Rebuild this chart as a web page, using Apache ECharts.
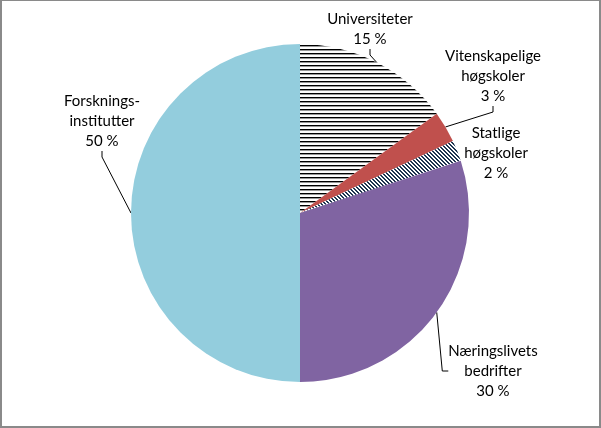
<!DOCTYPE html>
<html>
<head>
<meta charset="utf-8">
<script src="https://cdn.jsdelivr.net/npm/echarts@6/dist/echarts.min.js"></script>
<style>
html,body{margin:0;padding:0;background:#fff;}
#chart{width:597px;height:425px;border-left:2px solid #8a8a8a;border-right:2px solid #8a8a8a;border-top:1px solid #8a8a8a;border-bottom:2px solid #8a8a8a;}
</style>
</head>
<body>
<div id="chart"></div>
<script>
// Data
var categories = ['Universiteter', 'Vitenskapelige\nhøgskoler', 'Statlige\nhøgskoler', 'Næringslivets\nbedrifter', 'Forsknings-\ninstitutter'];
var values = [15, 3, 2, 30, 50];

// Styles / layout (not data)
function stripePattern() {
  var c = document.createElement('canvas');
  c.width = 8; c.height = 4;
  var g = c.getContext('2d');
  g.fillStyle = '#fff'; g.fillRect(0, 0, 8, 4);
  g.fillStyle = '#000'; g.fillRect(0, 0, 8, 1);
  g.fillStyle = '#999'; g.fillRect(0, 1, 8, 1);
  return { image: c, repeat: 'repeat' };
}
function diagPattern() {
  var c = document.createElement('canvas');
  c.width = 4; c.height = 4;
  var g = c.getContext('2d');
  g.fillStyle = '#fff'; g.fillRect(0, 0, 4, 4);
  g.fillStyle = '#1f3550';
  for (var i = 0; i < 4; i++) {
    g.fillRect(i, i, 1, 1);
    g.fillRect((i + 1) % 4, i, 1, 1);
  }
  return { image: c, repeat: 'repeat' };
}
var colors = [stripePattern(), '#c0504d', diagPattern(), '#8064a2', '#93cddd'];
var labelPos = [[368, 28], [491, 75], [494, 152], [491, 370], [100, 120]];
var showLine = [true, true, false, true, true];

var chart = echarts.init(document.getElementById('chart'), null, { renderer: 'canvas' });
var data = categories.map(function (n, i) {
  return {
    name: n, value: values[i],
    itemStyle: { color: colors[i] },
    labelLine: { show: showLine[i] }
  };
});
chart.setOption({
  animation: false,
  series: [{
    type: 'pie',
    center: [298, 212],
    radius: 169,
    startAngle: 90,
    clockwise: true,
    data: data,
    itemStyle: { borderWidth: 0 },
    label: {
      show: true,
      position: 'outside',
      fontFamily: 'Lato',
      fontSize: 15,
      lineHeight: 20,
      color: '#000',
      align: 'center',
      formatter: function (p) { return p.name + '\n' + p.value + ' %'; }
    },
    labelLine: { show: true, length: 10, length2: 6, lineStyle: { color: '#000', width: 1 } },
    labelLayout: function (p) {
      var pos = labelPos[p.dataIndex];
      return { x: pos[0], y: pos[1], align: 'center', verticalAlign: 'middle' };
    }
  }]
});
</script>
</body>
</html>
